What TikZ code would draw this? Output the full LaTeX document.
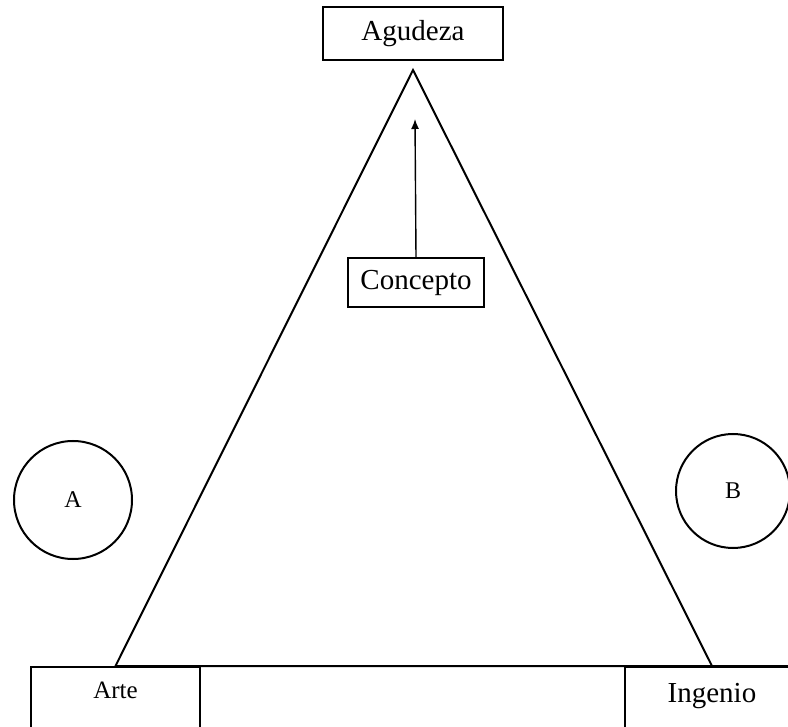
\documentclass[tikz,border=0pt]{standalone}
\usepackage{fontspec}
\setmainfont{Liberation Serif}
\usepackage{tikz}
\usetikzlibrary{arrows.meta}

\begin{document}
\begin{tikzpicture}[x=0.5pt, y=-0.5pt, >={Latex[length=5pt,width=4pt]}, line width=1pt,
    box/.style={draw, rectangle, inner sep=0pt, font=\fontsize{14.5}{17}\selectfont},
    ring/.style={draw, circle, inner sep=0pt, font=\fontsize{12}{14}\selectfont}]
    \clip (0,0) rectangle (788,727);

    \node[box, minimum width=90pt, minimum height=26.5pt](0) at (413,33.5) {Agudeza};
    \node[box, minimum width=68pt, minimum height=24.5pt](1) at (416,282.5) {Concepto};
    \node[box, font=\fontsize{12.5}{14}\selectfont, minimum width=84.5pt,
          text height=15.5pt, text depth=40pt, anchor=north](2) at (115.5,666) {Arte};
    \node[box, minimum width=87pt, text height=17.5pt, text depth=40pt,
          anchor=north](3) at (712,666) {Ingenio};
    \node[ring, minimum size=59pt](4) at (73,500) {A};
    \node[ring, minimum size=57pt](5) at (733,491) {B};

    \coordinate(top) at (413,70);
    \coordinate(tip) at (415,119);
    \coordinate(edge) at (800,666);

    \draw(top)--(2.north)--(3.north)--cycle;
    \draw(3.north)--(edge);
    \draw[->, line width=0.7pt](1.north)--(tip);
\end{tikzpicture}
\end{document}
